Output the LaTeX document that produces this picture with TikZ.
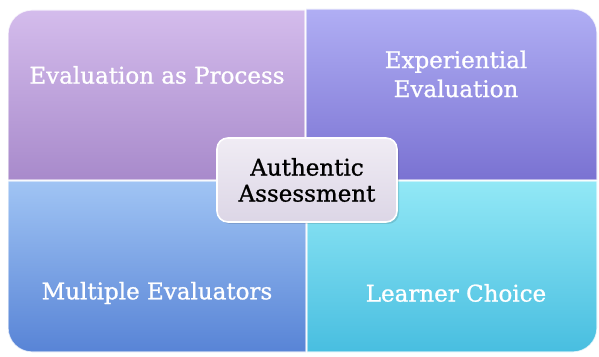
\documentclass[tikz,border=0pt]{standalone}
\usepackage{fontspec}
\setmainfont[FakeBold=1]{DejaVu Serif}
\begin{document}
\begin{tikzpicture}[x=1pt,y=1pt,
  quadtext/.style={text=white,font=\fontsize{23}{29}\selectfont,align=center},
  centerbox/.style={draw=white,line width=1.6pt,rounded corners=11pt,
    top color=tlcenter,bottom color=blcenter,minimum width=180pt,minimum height=84pt,
    text=black,font=\fontsize{23}{26}\selectfont,align=center},
  edge/.style={draw=white,draw opacity=0.75,line width=1.2pt}]
\definecolor{tltop}{HTML}{D4BCEC}\definecolor{tlbot}{HTML}{A88ACB}
\definecolor{trtop}{HTML}{B0AEF4}\definecolor{trbot}{HTML}{7A72D2}
\definecolor{bltop}{HTML}{A0C4F4}\definecolor{blbot}{HTML}{5884D6}
\definecolor{brtop}{HTML}{92E8F6}\definecolor{brbot}{HTML}{48BEE0}
\definecolor{tlcenter}{HTML}{F0ECF4}\definecolor{blcenter}{HTML}{DCD6E6}
\useasboundingbox (0,0) rectangle (599,356);
\fill[white] (0,0) rectangle (599,356);
% quadrants
\shade[top color=tltop,bottom color=tlbot,edge]
  (305,176) -- (8,176) -- (8,322) arc[start angle=180,end angle=90,radius=24] -- (305,346) -- cycle;
\shade[top color=trtop,bottom color=trbot,edge]
  (306,176) -- (306,347) -- (573,347) arc[start angle=90,end angle=0,radius=24] -- (597,176) -- cycle;
\shade[top color=bltop,bottom color=blbot,edge]
  (306,175) -- (306,4) -- (32,4) arc[start angle=270,end angle=180,radius=24] -- (8,175) -- cycle;
\shade[top color=brtop,bottom color=brbot,edge]
  (307,175) -- (597,175) -- (597,28) arc[start angle=0,end angle=-90,radius=24] -- (307,4) -- cycle;
% texts
\node[quadtext] (tl) at (157,281) {Evaluation as Process};
\node[quadtext] (tr) at (456,282) {Experiential\\Evaluation};
\node[quadtext] (bl) at (157,63) {Multiple Evaluators};
\node[quadtext] (br) at (456,63) {Learner Choice};
% centre
\fill[black,opacity=0.12,rounded corners=11pt] (219,132) rectangle (399,216);
\node[centerbox] (c) at (307,176) {Authentic\\Assessment};
\end{tikzpicture}
\end{document}
